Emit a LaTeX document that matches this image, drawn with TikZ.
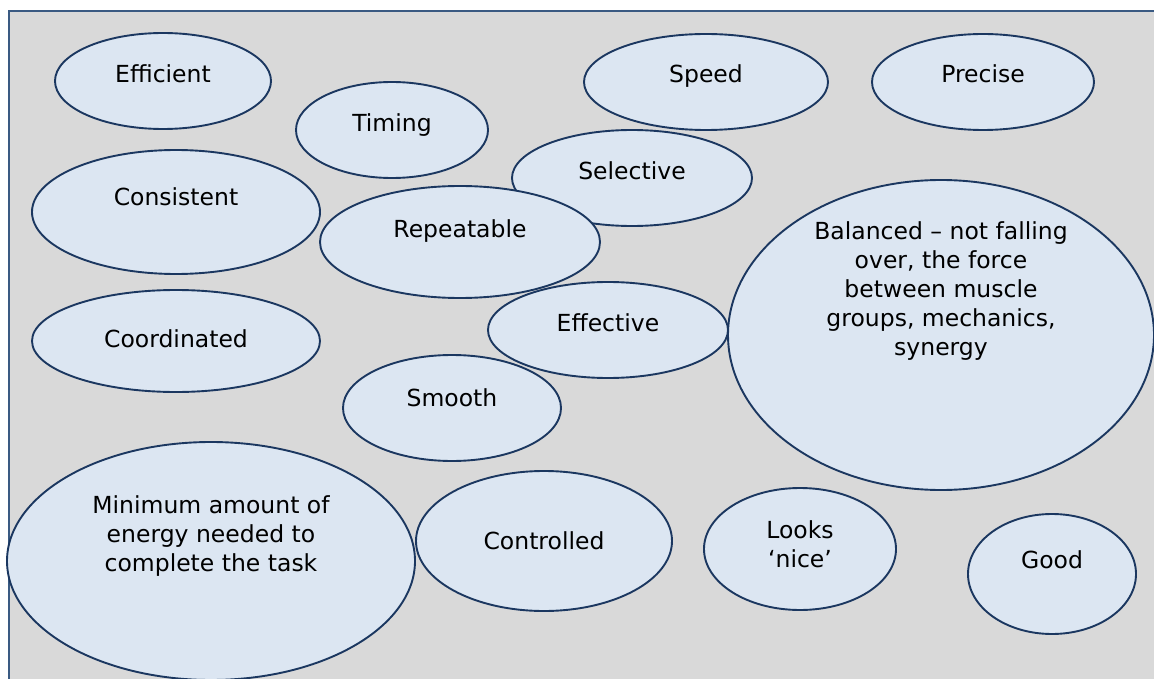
\documentclass[tikz,border=0pt]{standalone}
\usepackage{fontspec}
\setmainfont{DejaVu Sans}
\usetikzlibrary{shapes.geometric}
\definecolor{bg}{HTML}{D9D9D9}
\definecolor{bubfill}{HTML}{DCE6F2}
\definecolor{bubline}{HTML}{1B3760}
\definecolor{frameline}{HTML}{3A5A82}
\tikzset{
  bub/.style={ellipse, draw=bubline, fill=bubfill, line width=1.9pt, inner sep=0pt, outer sep=0pt},
  txt/.style={anchor=base, align=center, inner sep=0pt, font=\fontsize{23.5}{29}\selectfont},
}
\begin{document}
\begin{tikzpicture}[x=1pt,y=-1pt]
\clip (0,0) rectangle (1154,679);
\node[draw=frameline, fill=bg, line width=2pt, rectangle, minimum width=1200pt, minimum height=700pt, anchor=north west, inner sep=0pt] (frame) at (8,10) {};
% bubbles: center, size; text nodes anchored at baseline of last line
\node[bub, minimum width=216pt, minimum height=96pt] (eff) at (163,81) {};
\node[txt] (efft) at (163,83) {Efficient};
\node[bub, minimum width=192pt, minimum height=96pt] (tim) at (392,130) {};
\node[txt] (timt) at (392,132) {Timing};
\node[bub, minimum width=244pt, minimum height=96pt] (spd) at (706,82) {};
\node[txt] (spdt) at (706,83) {Speed};
\node[bub, minimum width=222pt, minimum height=96pt] (pre) at (983,82) {};
\node[txt] (pret) at (983,83) {Precise};
\node[bub, minimum width=240pt, minimum height=96pt] (sel) at (632,178) {};
\node[txt] (selt) at (632,180) {Selective};
\node[bub, minimum width=288pt, minimum height=124pt] (con) at (176,212) {};
\node[txt] (cont) at (176,206) {Consistent};
\node[bub, minimum width=280pt, minimum height=112pt] (rep) at (460,242) {};
\node[txt] (rept) at (460,238) {Repeatable};
\node[bub, minimum width=288pt, minimum height=102pt] (coo) at (176,341) {};
\node[txt] (coot) at (176,347) {Coordinated};
\node[bub, minimum width=240pt, minimum height=96pt] (efv) at (608,330) {};
\node[txt] (efvt) at (608,331) {Effective};
\node[bub, minimum width=426pt, minimum height=310pt] (bal) at (941,335) {};
\node[txt] (balt) at (941,355) {Balanced – not falling\\over, the force\\between muscle\\groups, mechanics,\\synergy};
\node[bub, minimum width=218pt, minimum height=106pt] (smo) at (452,408) {};
\node[txt] (smot) at (452,406) {Smooth};
\node[bub, minimum width=408pt, minimum height=238pt] (min) at (211,561) {};
\node[txt] (mint) at (211,571) {Minimum amount of\\energy needed to\\complete the task};
\node[bub, minimum width=256pt, minimum height=140pt] (ctl) at (544,541) {};
\node[txt] (ctlt) at (544,549) {Controlled};
\node[bub, minimum width=192pt, minimum height=122pt] (lok) at (800,549) {};
\node[txt] (lokt) at (800,567) {Looks\\‘nice’};
\node[bub, minimum width=168pt, minimum height=120pt] (goo) at (1052,574) {};
\node[txt] (goot) at (1052,568) {Good};
\end{tikzpicture}
\end{document}
